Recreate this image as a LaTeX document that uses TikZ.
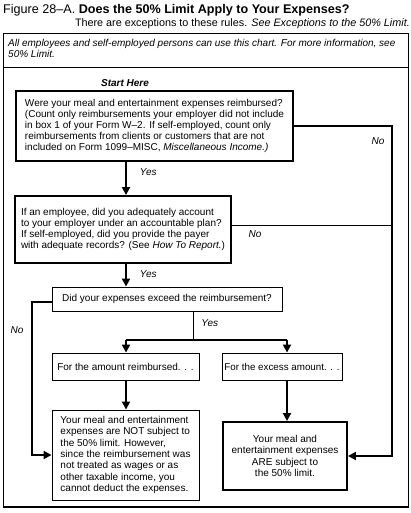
\documentclass[tikz,border=0pt]{standalone}
\usepackage{fontspec}
\setmainfont{Liberation Sans}
\usetikzlibrary{arrows.meta}
\begin{document}
\begin{tikzpicture}[x=1pt,y=-1pt,
  every node/.style={font=\fontsize{10}{10.9}\selectfont, inner sep=0pt},
  thinbox/.style={draw, line width=0.9pt},
  thickbox/.style={draw, line width=1.9pt},
  arr/.style={line width=1.9pt, -{Triangle[width=8pt,length=8pt]}},
  thickline/.style={line width=1.9pt},
  thinline/.style={line width=0.9pt},
  lbl/.style={font=\fontsize{10}{11}\selectfont\itshape}]
\useasboundingbox (0,0) rectangle (411,513);
\fill[white] (0,0) rectangle (411,513);
% title
\node[anchor=base west, font=\fontsize{12.6}{14}\selectfont] (title) at (3,14) {Figure 28--A. \textbf{Does the 50\% Limit Apply to Your Expenses?}};
\node[anchor=base east, font=\fontsize{10.8}{12}\selectfont] (sub) at (410,27) {There are exceptions to these rules. \textit{See Exceptions to the 50\% Limit.}};
% frames
\draw[thinline] (3,33) rectangle (408,507);
\draw[thickline] (3,67.5) -- (408,67.5);
\draw[thickline] (3,507) -- (408,507);
\node[anchor=north west, align=left, font=\fontsize{10}{11.5}\selectfont\itshape] (hdr) at (8,39) {All employees and self-employed persons can use this chart. For more information, see\\50\% Limit.};
\node[font=\fontsize{10}{11}\selectfont\bfseries\itshape] (start) at (125,83) {Start Here};
% boxes
\node[thickbox, minimum width=277pt, minimum height=70pt, align=left] (b1) at (154.5,126) {Were your meal and entertainment expenses reimbursed?\\(Count only reimbursements your employer did not include\\in box 1 of your Form W--2. If self-employed, count only\\reimbursements from clients or customers that are not\\included on Form 1099--MISC, \textit{Miscellaneous Income.)}};
\node[thickbox, minimum width=216pt, minimum height=67pt, align=left] (b2) at (123,229.5) {If an employee, did you adequately account\\to your employer under an accountable plan?\\If self-employed, did you provide the payer\\with adequate records? (See \textit{How To Report.})};
\node[thinbox, minimum width=230pt, minimum height=24pt] (b3) at (167,299) {Did your expenses exceed the reimbursement?};
\node[thinbox, minimum width=147pt, minimum height=27pt] (b4a) at (125.5,366.5) {For the amount reimbursed. . .};
\node[thinbox, minimum width=120pt, minimum height=27pt, font=\fontsize{9.8}{11}\selectfont] (b4b) at (282,366.5) {For the excess amount. . .};
\node[thinbox, minimum width=147pt, minimum height=90pt, align=left, font=\fontsize{10}{11.3}\selectfont] (b5) at (125.5,455) {Your meal and entertainment\\expenses are NOT subject to\\the 50\% limit. However,\\since the reimbursement was\\not treated as wages or as\\other taxable income, you\\cannot deduct the expenses.};
\node[thickbox, minimum width=124pt, minimum height=68pt, align=center, font=\fontsize{10}{11.2}\selectfont] (b6) at (285,456) {Your meal and\\entertainment expenses\\ARE subject to\\the 50\% limit.};
% helper coordinates
\coordinate (rx) at (392,0);
\coordinate (lx) at (32,0);
\coordinate (ax) at (126,0);
\coordinate (bx) at (287,0);
\coordinate (sy) at (193,0);
\coordinate (ry2) at (0,225);
\coordinate (ly3) at (0,302);
\coordinate (split) at (193,340);
% connectors
\draw[arr] (b1.south -| ax) -- (b2.north -| ax) node[lbl, pos=0.3, anchor=west, xshift=13pt] {Yes};
\draw[arr] (b1.east) -- (b1.east -| rx) -- (b6.east -| rx) -- (b6.east);
\node[lbl] (no1) at (378,141) {No};
\draw[thinline] (b2.east |- ry2) -- (rx |- ry2);
\node[lbl] (no2) at (255,234) {No};
\draw[arr] (b2.south -| ax) -- (b3.north -| ax) node[lbl, pos=0.45, anchor=west, xshift=13pt] {Yes};
\draw[arr] (b3.west |- ly3) -- (lx |- ly3) -- (b5.west -| lx) -- (b5.west);
\node[lbl] (no3) at (17,330) {No};
\draw[thinline] (b3.south -| sy) -- (split) node[lbl, pos=0.4, anchor=west, xshift=8pt] {Yes};
\draw[thickline] (split -| ax) -- (split -| bx);
\draw[arr] (split -| ax) -- (b4a.north -| ax);
\draw[arr] (split -| bx) -- (b4b.north -| bx);
\draw[arr] (b4a.south -| ax) -- (b5.north -| ax);
\draw[arr] (b4b.south -| bx) -- (b6.north -| bx);
\end{tikzpicture}
\end{document}
